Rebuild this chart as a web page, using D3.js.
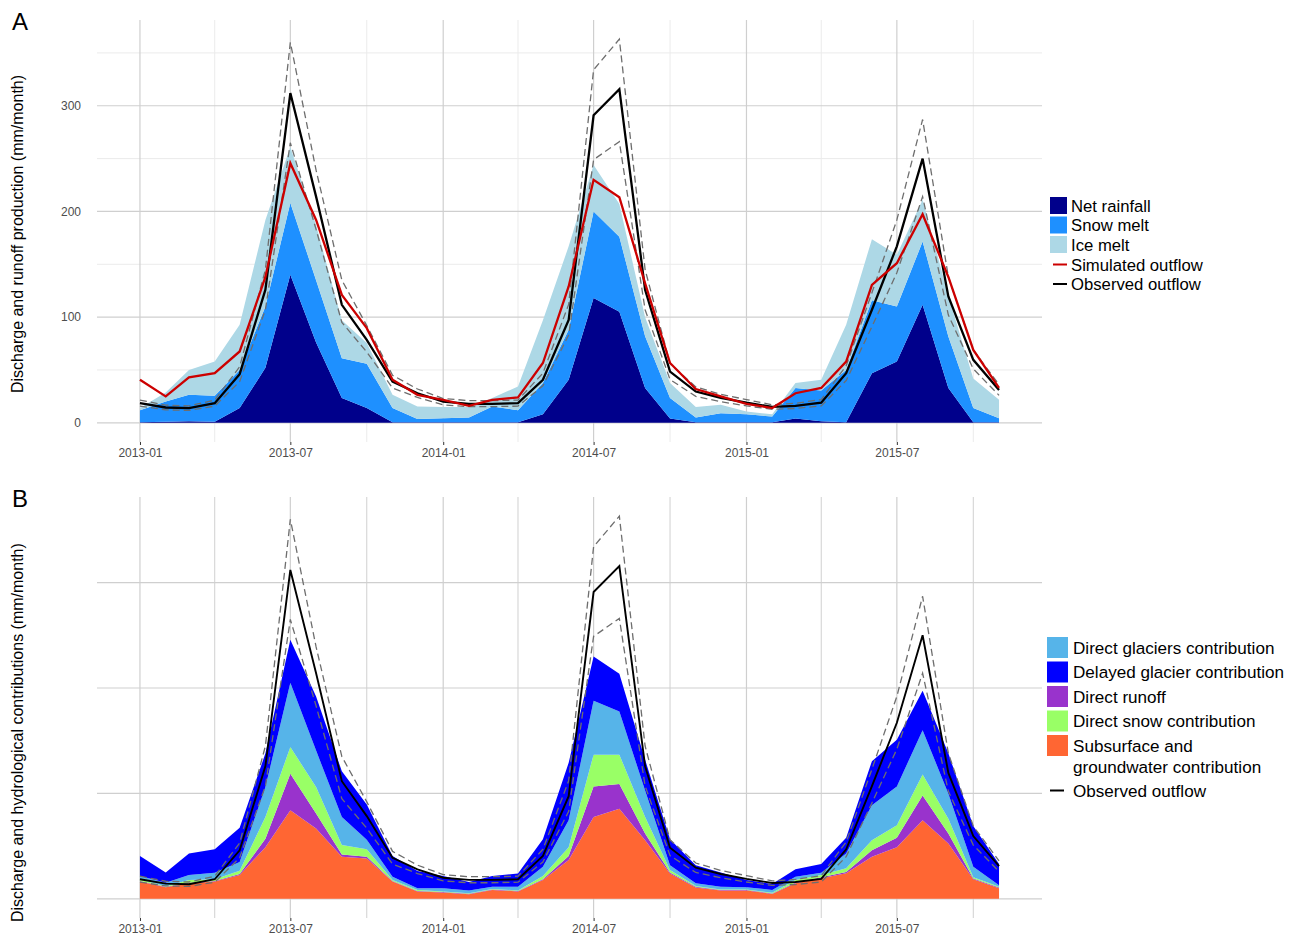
<!DOCTYPE html>
<html><head><meta charset="utf-8">
<script src="https://cdn.jsdelivr.net/npm/d3@7"></script>
<style>
body{margin:0;background:#fff}
svg{display:block;font-family:"Liberation Sans",Arial,Helvetica,sans-serif}
</style></head>
<body><svg id="chart" width="1302" height="936"></svg>
<script>
// ---------- DATA ----------
const months = ["2013-01","2013-02","2013-03","2013-04","2013-05","2013-06","2013-07","2013-08","2013-09","2013-10","2013-11","2013-12",
"2014-01","2014-02","2014-03","2014-04","2014-05","2014-06","2014-07","2014-08","2014-09","2014-10","2014-11","2014-12",
"2015-01","2015-02","2015-03","2015-04","2015-05","2015-06","2015-07","2015-08","2015-09","2015-10","2015-11"];
const xTickLabels = ["2013-01","2013-07","2014-01","2014-07","2015-01","2015-07"];
const xMinorLabels = ["2013-04","2013-10","2014-04","2014-10","2015-04","2015-10"];
const yTicks = [0,100,200,300];
const yMinorTicks = [50,150,250,350];

// Panel A: runoff production (stacked)
const netRainfall = [0.5,1,1.5,1,14,52,140,76,23.6,14,0.5,0.5, 0.5,0.5,0.5,0.5,8,40.7,118,105,33,4,0.5,0.5, 0.5,0.5,4,1.5,0.5,47,58,111.6,33,0.5,0.5];
const snowMelt = [11.5,19.2,25,24.5,36,58,68,59,37.4,42,13.5,3.2, 3.9,4.5,14.9,11.5,29.6,47.3,82,71,49,19.6,4.5,8.5, 7.5,5.5,29,29.1,49.5,69,52,59.9,48.7,13.5,3.9];
const iceMelt = [2,8.5,23.5,32.5,42.7,82,53,52,36,19.6,12.5,11.7, 10.6,10,8.2,22.4,59.4,79,44,31,18,14,10,8, 2.7,2,4.6,10.1,42.7,57.8,49,39.5,38.3,28,17.4];

// Outflows
const simulated = [40.7,25,43,47,67.5,138,245.7,192,121,89.6,40.7,26.5, 21.8,16,21.8,24,56.6,129,229.9,213.5,132,56.6,32,25, 18,14,28,33,58,130.6,151,197.4,138,69,33];
const observed = [18.6,14.5,13.9,18.6,46,126,312,214,111.6,78.5,39,28, 20,18,18,18.6,40.7,97.4,291,315.7,125.8,48.5,29.6,23.6, 19,15,16,19,47,107,167,250,119.5,59.6,31];
const observedUpper = [21.5,16.7,16,21.5,53,145,360,239,135,92,45,32, 23,21,21,21.5,47,112,334,363,145,56,34,27, 22,17,18.5,22,54,123,192,287,138,69,36];
const observedLower = [15.8,12.3,11.8,15.8,39,107,265,183,95,67,33,24, 17,15.3,15.3,15.8,35,83,249,266,107,41,25,20, 16,12.8,13.6,16,40,91,142,214,102,51,26];

// Panel B: hydrological contributions (stacked, bottom to top)
const subsurface = [16.4,11,14.8,16.4,22.6,49,84,66.7,40,38.4,16.4,6.9, 6,4.4,8.5,7,18,36.8,77.6,85.5,55.7,24,10.7,7.9, 7.9,4.7,14.8,19.5,24.2,40,49,74.5,52.5,18.6,10];
const directRunoff = [0.6,0.5,0.4,0.6,0.9,8,34.6,14.3,2,1.6,0.6,0.6, 0.5,0.5,0.5,0.5,0.5,3.8,29,23.5,6.3,1,0.9,0.6, 0.6,0.5,0.7,1,1.3,6,9,23.5,9.5,0.6,0.7];
const directSnow = [1.6,0.5,2.8,1.6,3.2,20.6,25.4,25,9,7,1,1, 0.5,0.4,0.4,0.5,3.2,8.4,30.2,27.8,15.6,2.4,0.7,0.5, 0.5,0.5,2.4,2.1,3.5,9.7,11.8,20,14,1.2,0.9];
const directGlaciers = [3.1,3.4,4.6,6.2,8.3,28.4,61,34.6,26.6,9,3,1.5, 3,2.7,2.2,3.6,8.8,25.5,51.2,40.9,25.2,4.6,2.5,2.6, 2,2.8,3.1,2.2,14,33,36.8,42,23.7,10.1,1.4];
const delayedGlacier = [19,9.6,20.4,22.2,32.5,32,40.7,51.4,43.4,33.6,19.7,16.5, 11.8,8,10.2,12.4,26.1,54.5,41.9,35.8,29.2,24.6,17.2,13.4, 7,5.5,7,8.2,15,41.9,44.4,37.4,38.3,38.5,20];

// ---------- SETUP ----------
const parse = d3.timeParse("%Y-%m");
const fmt = d3.timeFormat("%Y-%m");
const dates = months.map(parse);
const svg = d3.select("#chart");

const d0 = dates[0], d1 = dates[dates.length-1];
const pad = (d1 - d0) * 0.05;
const x = d3.scaleTime().domain([new Date(+d0 - pad), new Date(+d1 + pad)]).range([97, 1042]);
const yMax = d3.max(observedUpper);
const yDom = [-yMax*0.05, yMax*1.05];

const panels = [
  {top: 20, bottom: 442, label: "A", titleStart: 393, title: "Discharge and runoff production (mm/month)", minorH: true, minorVColor: "#ebebeb"},
  {top: 497, bottom: 918, label: "B", titleStart: 922, title: "Discharge and hydrological contributions (mm/month)", minorH: false, minorVColor: "#d0d0d0"}
];
panels.forEach(p => { p.y = d3.scaleLinear().domain(yDom).range([p.bottom, p.top]); });

function drawFrame(p, showYLabels) {
  const g = svg.append("g");
  if (p.minorH) {
    g.selectAll(".hmin").data(yMinorTicks).join("line")
      .attr("x1", 97).attr("x2", 1042).attr("y1", d => p.y(d)).attr("y2", d => p.y(d))
      .attr("stroke", "#ebebeb").attr("stroke-width", 1);
  }
  g.selectAll(".vmin").data(xMinorLabels.map(parse)).join("line")
    .attr("x1", d => x(d)).attr("x2", d => x(d)).attr("y1", p.top).attr("y2", p.bottom)
    .attr("stroke", p.minorVColor).attr("stroke-width", 1);
  g.selectAll(".hmaj").data(yTicks).join("line")
    .attr("x1", 97).attr("x2", 1042).attr("y1", d => p.y(d)).attr("y2", d => p.y(d))
    .attr("stroke", "#cfcfcf").attr("stroke-width", 1.2);
  g.selectAll(".vmaj").data(xTickLabels.map(parse)).join("line")
    .attr("x1", d => x(d)).attr("x2", d => x(d)).attr("y1", p.top).attr("y2", p.bottom)
    .attr("stroke", "#cfcfcf").attr("stroke-width", 1.2);
  // x axis ticks & labels
  const ax = svg.append("g").attr("transform", `translate(0,${p.bottom})`)
    .call(d3.axisBottom(x).tickValues(xTickLabels.map(parse)).tickFormat(fmt).tickSize(3).tickPadding(3));
  ax.select(".domain").remove();
  ax.selectAll(".tick line").attr("stroke", "#333");
  ax.selectAll(".tick text").attr("fill", "#4d4d4d").attr("font-size", 12).attr("font-family", "Liberation Sans, Arial, sans-serif");
  if (showYLabels) {
    const ay = svg.append("g").attr("transform", `translate(97,0)`)
      .call(d3.axisLeft(p.y).tickValues(yTicks).tickSize(0).tickPadding(16));
    ay.select(".domain").remove();
    ay.selectAll(".tick text").attr("fill", "#4d4d4d").attr("font-size", 12).attr("font-family", "Liberation Sans, Arial, sans-serif");
  }
  // axis title
  svg.append("text").attr("transform", `translate(23,${p.titleStart}) rotate(-90)`)
    .attr("text-anchor", "start").attr("font-size", 16).attr("fill", "#000").text(p.title);
  svg.append("text").attr("x", 12).attr("y", p.top + 10).attr("font-size", 24).attr("fill", "#000").text(p.label);
}

function drawOutflow(p, obsWidth) {
  const line = vals => d3.line().x((d, i) => x(dates[i])).y(d => p.y(d))(vals);
  [observedUpper, observedLower].forEach(v => {
    svg.append("path").attr("d", line(v)).attr("fill", "none")
      .attr("stroke", "#6e6e6e").attr("stroke-width", 1.3).attr("stroke-dasharray", "7,4");
  });
  svg.append("path").attr("d", line(observed)).attr("fill", "none")
    .attr("stroke", "#000").attr("stroke-width", obsWidth).attr("stroke-linejoin", "miter");
  return line;
}

// ---------- PANEL A ----------
const pA = panels[0];
drawFrame(pA, true);
const keysA = ["netRainfall", "snowMelt", "iceMelt"];
const colA = {netRainfall: "#00008B", snowMelt: "#1E90FF", iceMelt: "#ADD8E6"};
const rowsA = dates.map((d, i) => ({date: d, netRainfall: netRainfall[i], snowMelt: snowMelt[i], iceMelt: iceMelt[i]}));
const stackA = d3.stack().keys(keysA)(rowsA);
const areaA = d3.area().x(d => x(d.data.date)).y0(d => pA.y(d[0])).y1(d => pA.y(d[1]));
svg.append("g").selectAll("path").data(stackA).join("path")
  .attr("d", areaA).attr("fill", s => colA[s.key]);
const lineA = drawOutflow(pA, 2.3);
svg.append("path").attr("d", lineA(simulated)).attr("fill", "none")
  .attr("stroke", "#CC0000").attr("stroke-width", 2.3);

// ---------- PANEL B ----------
const pB = panels[1];
drawFrame(pB, false);
const keysB = ["subsurface", "directRunoff", "directSnow", "directGlaciers", "delayedGlacier"];
const colB = {subsurface: "#FF6633", directRunoff: "#9933CC", directSnow: "#99FF66", directGlaciers: "#56B4E9", delayedGlacier: "#0000FF"};
const seriesB = {subsurface, directRunoff, directSnow, directGlaciers, delayedGlacier};
const rowsB = dates.map((d, i) => { const o = {date: d}; keysB.forEach(k => o[k] = seriesB[k][i]); return o; });
const stackB = d3.stack().keys(keysB)(rowsB);
const areaB = d3.area().x(d => x(d.data.date)).y0(d => pB.y(d[0])).y1(d => pB.y(d[1]));
svg.append("g").selectAll("path").data(stackB).join("path")
  .attr("d", areaB).attr("fill", s => colB[s.key]);
drawOutflow(pB, 1.9);

// ---------- LEGENDS ----------
function legend(items, x0, textX, fontSize) {
  const g = svg.append("g").attr("font-size", fontSize).attr("fill", "#000");
  items.forEach(it => {
    if (it.type === "rect") {
      g.append("rect").attr("x", x0).attr("y", it.y - it.s/2).attr("width", it.s).attr("height", it.s).attr("fill", it.color);
    } else if (it.type === "line") {
      g.append("line").attr("x1", x0 + 3).attr("x2", x0 + 17).attr("y1", it.y).attr("y2", it.y)
        .attr("stroke", it.color).attr("stroke-width", 2);
    }
    it.text.forEach((t, j) => {
      g.append("text").attr("x", textX).attr("y", it.y + j * 21).attr("dy", "0.36em").text(t);
    });
  });
}
legend([
  {type: "rect", color: colA.netRainfall, y: 205.5, s: 17, text: ["Net rainfall"]},
  {type: "rect", color: colA.snowMelt, y: 225, s: 17, text: ["Snow melt"]},
  {type: "rect", color: colA.iceMelt, y: 244.5, s: 17, text: ["Ice melt"]},
  {type: "line", color: "#CC0000", y: 264.5, text: ["Simulated outflow"]},
  {type: "line", color: "#000", y: 284, text: ["Observed outflow"]}
], 1050, 1071, 16.7);
legend([
  {type: "rect", color: colB.directGlaciers, y: 647.5, s: 21, text: ["Direct glaciers contribution"]},
  {type: "rect", color: colB.delayedGlacier, y: 672, s: 21, text: ["Delayed glacier contribution"]},
  {type: "rect", color: colB.directRunoff, y: 696.5, s: 21, text: ["Direct runoff"]},
  {type: "rect", color: colB.directSnow, y: 721, s: 21, text: ["Direct snow contribution"]},
  {type: "rect", color: colB.subsurface, y: 745.5, s: 21, text: ["Subsurface and", "groundwater contribution"]},
  {type: "line", color: "#000", y: 790.5, text: ["Observed outflow"]}
], 1047, 1073, 17.1);
</script></body></html>
